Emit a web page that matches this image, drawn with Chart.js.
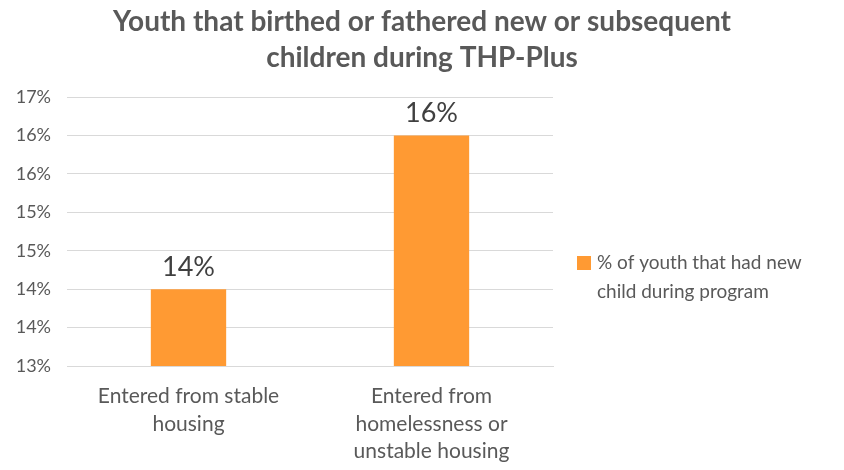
<!DOCTYPE html>
<html>
<head>
<meta charset="utf-8">
<script src="https://cdn.jsdelivr.net/npm/chart.js@4.4.0/dist/chart.umd.min.js"></script>
<style>
  html, body { margin: 0; padding: 0; background: #fff; }
  #wrap { width: 844px; height: 470px; position: relative; }
</style>
</head>
<body>
<div id="wrap"><canvas id="chart"></canvas></div>
<script>
const titleLines = ['Youth that birthed or fathered new or subsequent', 'children during THP-Plus'];
const categories = [['Entered from stable', 'housing'], ['Entered from', 'homelessness or', 'unstable housing']];
const seriesName = '% of youth that had new child during program';
const legendLines = ['% of youth that had new', 'child during program'];
const values = [0.14, 0.16];

const TEXT = '#595959';
const BAR = '#FF9A33';

// title, legend and bar value labels drawn by hand
const extras = {
    id: 'extras',
    afterDraw(chart) {
        const ctx = chart.ctx;
        ctx.save();
        ctx.fillStyle = TEXT;
        ctx.textAlign = 'center';
        ctx.textBaseline = 'middle';
        ctx.font = 'bold 28px Lato';
        ctx.fillText(titleLines[0], 422, 22);
        ctx.fillText(titleLines[1], 422, 58);

        // value labels
        const meta = chart.getDatasetMeta(0);
        ctx.font = '27px Lato';
        ctx.fillStyle = '#404040';
        ctx.textBaseline = 'alphabetic';
        meta.data.forEach((bar, i) => {
            ctx.fillText(Math.round(values[i] * 100) + '%', bar.x, bar.y - 13);
        });

        // legend
        ctx.fillStyle = BAR;
        ctx.fillRect(577, 256, 14, 14);
        ctx.fillStyle = TEXT;
        ctx.textAlign = 'left';
        ctx.textBaseline = 'middle';
        ctx.font = '19px Lato';
        ctx.fillText(legendLines[0], 597, 263);
        ctx.fillText(legendLines[1], 597, 292);
        ctx.restore();
    }
};

new Chart(document.getElementById('chart'), {
    type: 'bar',
    data: {
        labels: categories,
        datasets: [{
            label: seriesName,
            data: values,
            backgroundColor: BAR,
            barPercentage: 0.31,
            categoryPercentage: 1
        }]
    },
    options: {
        responsive: true,
        maintainAspectRatio: false,
        animation: false,
        layout: {
            padding: { top: 97, right: 291, left: 0, bottom: 0 }
        },
        plugins: {
            legend: { display: false },
            title: { display: false },
            tooltip: { enabled: false }
        },
        scales: {
            x: {
                grid: { display: false },
                border: { display: true, color: '#D9D9D9' },
                afterFit(axis) { axis.height = 104; },
                ticks: {
                    color: TEXT,
                    font: { family: 'Lato', size: 21, lineHeight: 1.3 },
                    maxRotation: 0,
                    autoSkip: false,
                    padding: 9
                }
            },
            y: {
                min: 0.13,
                max: 0.165,
                afterFit(axis) { axis.width = 67; },
                grid: { color: '#D9D9D9', drawTicks: false },
                border: { display: false },
                ticks: {
                    stepSize: 0.005,
                    color: TEXT,
                    font: { family: 'Lato', size: 18 },
                    padding: 16,
                    callback: (v) => Math.round(Math.round(v * 1000) / 10) + '%'
                }
            }
        }
    },
    plugins: [extras]
});
</script>
</body>
</html>
